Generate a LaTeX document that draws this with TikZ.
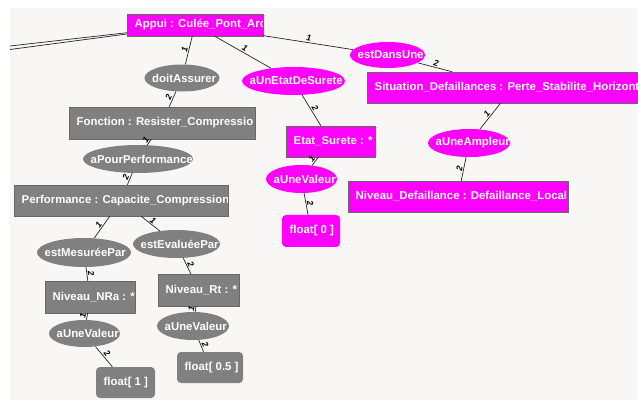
\documentclass[tikz,border=0pt]{standalone}
\usepackage{fontspec}
\setmainfont{Liberation Sans}
\usepackage{xcolor}
\usetikzlibrary{shapes.geometric}
\definecolor{onto-magenta}{HTML}{FF00FF}
\definecolor{onto-gray}{HTML}{808080}
\definecolor{onto-border}{HTML}{686868}
\definecolor{onto-bg}{HTML}{F8F7F6}

\begin{document}
\begin{tikzpicture}[x=1pt, y=-1pt,
      every node/.style={font=\bfseries\fontsize{11.4}{13}\selectfont},
      inst/.style={rectangle, draw=onto-border, inner sep=0pt},
      prop/.style={ellipse, inner sep=0pt},
      lit/.style={rectangle, rounded corners=4pt, inner sep=0pt},
      txt/.style={path picture={\node[shape=rectangle, draw=none, fill=none,
          minimum width=0pt, minimum height=0pt, anchor=west, text=white, inner sep=0pt]
          at ([xshift=7.5pt]path picture bounding box.west) {#1};}},
      link/.style={draw=black!85, line width=0.7pt},
      card/.style={midway, sloped, above, inner sep=1pt,
          font=\bfseries\itshape\fontsize{8.5}{9}\selectfont}]
    \useasboundingbox (0,0) rectangle (638,401);
    \clip (0,0) rectangle (638,401);
    \fill[onto-bg] (10,8) rectangle (638,400);

    % instances, properties and literals
    \node[inst, fill=onto-magenta, minimum width=136pt, minimum height=22pt,
          txt={Appui : Culée\_Pont\_Arc}] (appui) at (195,25) {};
    \node[prop, fill=onto-gray, minimum width=75pt, minimum height=27pt,
          txt={doitAssurer}] (doit) at (182,78) {};
    \node[inst, fill=onto-gray, minimum width=186pt, minimum height=32pt,
          txt={Fonction : Resister\_Compressio}] (fonction) at (162,123) {};
    \node[prop, fill=onto-gray, minimum width=110pt, minimum height=28pt,
          txt={aPourPerformance}] (pourperf) at (138,159) {};
    \node[inst, fill=onto-gray, minimum width=214pt, minimum height=31pt,
          txt={Performance : Capacite\_Compression}] (perf) at (121,200.5) {};
    \node[prop, fill=onto-gray, minimum width=94pt, minimum height=29pt,
          txt={estMesuréePar}] (mesure) at (84,252.5) {};
    \node[prop, fill=onto-gray, minimum width=87pt, minimum height=28pt,
          txt={estEvaluéePar}] (evalue) at (176.5,244) {};
    \node[inst, fill=onto-gray, minimum width=90pt, minimum height=32pt,
          txt={Niveau\_NRa : *}] (nra) at (90,297) {};
    \node[prop, fill=onto-gray, minimum width=71pt, minimum height=27pt,
          txt={aUneValeur}] (valnra) at (84.5,333.5) {};
    \node[lit, fill=onto-gray, minimum width=59pt, minimum height=31pt,
          txt={float[ 1 ]}] (floatnra) at (125.5,382.5) {};
    \node[inst, fill=onto-gray, minimum width=81pt, minimum height=32pt,
          txt={Niveau\_Rt : *}] (rt) at (198.5,290) {};
    \node[prop, fill=onto-gray, minimum width=72pt, minimum height=28pt,
          txt={aUneValeur}] (valrt) at (193,326) {};
    \node[lit, fill=onto-gray, minimum width=66pt, minimum height=31pt,
          txt={float[ 0.5 ]}] (floatrt) at (210,367.5) {};
    \node[prop, fill=onto-magenta, minimum width=103pt, minimum height=28pt,
          txt={aUnEtatDeSurete}] (etatde) at (293.5,81) {};
    \node[inst, fill=onto-magenta, minimum width=89pt, minimum height=31pt,
          txt={Etat\_Surete : *}] (etat) at (330.5,141.5) {};
    \node[prop, fill=onto-magenta, minimum width=71pt, minimum height=28pt,
          txt={aUneValeur}] (valetat) at (301.5,179) {};
    \node[lit, fill=onto-magenta, minimum width=58pt, minimum height=32pt,
          txt={float[ 0 ]}] (floatetat) at (311,231) {};
    \node[prop, fill=onto-magenta, minimum width=75pt, minimum height=26pt,
          txt={estDansUne}] (dansune) at (387.5,55) {};
    \node[inst, fill=onto-magenta, minimum width=292pt, minimum height=31pt,
          txt={Situation\_Defaillances : Perte\_Stabilite\_Horizont}] (situation) at (513,87.5) {};
    \node[prop, fill=onto-magenta, minimum width=82pt, minimum height=28pt,
          txt={aUneAmpleur}] (ampleur) at (469,143) {};
    \node[inst, fill=onto-magenta, minimum width=220pt, minimum height=31pt,
          txt={Niveau\_Defaillance : Defaillance\_Local}] (niveaudef) at (458,196.5) {};

    % links leaving the view
    \coordinate (offA) at (10,46);
    \coordinate (offB) at (10,49.5);
    \draw[link] (appui) -- (offA);
    \draw[link] (appui) -- (offB);

    % links
    \draw[link] (appui) -- node[card] {1} (doit);
    \draw[link] (doit) -- node[card] {2} (fonction);
    \draw[link] (fonction) -- node[card] {1} (pourperf);
    \draw[link] (pourperf) -- node[card] {2} (perf);
    \draw[link] (perf) -- node[card] {1} (mesure);
    \draw[link] (perf) -- node[card] {1} (evalue);
    \draw[link] (mesure) -- node[card] {2} (nra);
    \draw[link] (nra) -- node[card] {1} (valnra);
    \draw[link] (valnra) -- node[card] {2} (floatnra);
    \draw[link] (evalue) -- node[card] {2} (rt);
    \draw[link] (rt) -- node[card] {1} (valrt);
    \draw[link] (valrt) -- node[card] {2} (floatrt);
    \draw[link] (appui) -- node[card] {1} (etatde);
    \draw[link] (etatde) -- node[card] {2} (etat);
    \draw[link] (etat) -- node[card] {1} (valetat);
    \draw[link] (valetat) -- node[card] {2} (floatetat);
    \draw[link] (appui) -- node[card] {1} (dansune);
    \draw[link] (dansune) -- node[card] {2} (situation);
    \draw[link] (situation) -- node[card] {1} (ampleur);
    \draw[link] (ampleur) -- node[card] {2} (niveaudef);
  \end{tikzpicture}
\end{document}
